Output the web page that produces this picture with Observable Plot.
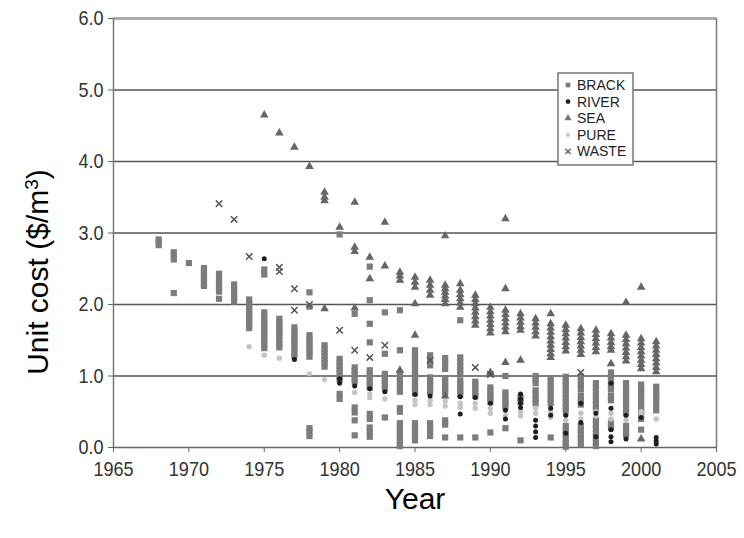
<!DOCTYPE html>
<html>
<head>
<meta charset="utf-8">
<script src="https://cdn.jsdelivr.net/npm/d3@7"></script>
<script src="https://cdn.jsdelivr.net/npm/@observablehq/plot@0.6"></script>
<style>
  html, body { margin: 0; padding: 0; background: #fff; }
  #chart { position: relative; width: 744px; height: 538px; }
</style>
</head>
<body>
<div id="chart"></div>
<script>
// ---- Data : [year, [unit costs $/m3]] ----
const xTicks = [1965, 1970, 1975, 1980, 1985, 1990, 1995, 2000, 2005];
const yTicks = [0, 1, 2, 3, 4, 5, 6];
const seriesNames = ["BRACK", "RIVER", "SEA", "PURE", "WASTE"];

const brack = [
  [1968, [2.91, 2.87, 2.83]],
  [1969, [2.73, 2.68, 2.63, 2.16]],
  [1970, [2.58]],
  [1971, [2.51, 2.46, 2.41, 2.36, 2.31, 2.26]],
  [1972, [2.43, 2.38, 2.33, 2.28, 2.23, 2.18, 2.08]],
  [1973, [2.28, 2.23, 2.18, 2.13, 2.08, 2.04]],
  [1974, [2.07, 2.02, 1.97, 1.92, 1.87, 1.82, 1.77, 1.72, 1.67]],
  [1975, [2.49, 2.42, 1.89, 1.84, 1.79, 1.74, 1.69, 1.64, 1.59, 1.54, 1.49, 1.44, 1.39]],
  [1976, [1.80, 1.75, 1.70, 1.65, 1.60, 1.55, 1.50, 1.45, 1.40]],
  [1977, [1.68, 1.63, 1.58, 1.53, 1.48, 1.43, 1.38, 1.33, 1.28]],
  [1978, [2.17, 1.97, 1.57, 1.52, 1.47, 1.42, 1.37, 1.32, 1.27, 0.27, 0.22, 0.16]],
  [1979, [1.43, 1.38, 1.33, 1.28, 1.23, 1.18, 1.13]],
  [1980, [2.98, 1.24, 1.19, 1.14, 1.09, 1.04, 0.99, 0.95, 0.75, 0.68]],
  [1981, [1.87, 1.12, 1.07, 1.02, 0.97, 0.92, 0.56, 0.49, 0.38, 0.17]],
  [1982, [2.53, 2.06, 1.73, 1.47, 1.08, 1.03, 0.98, 0.93, 0.88, 0.84, 0.47, 0.40, 0.28, 0.22, 0.15]],
  [1983, [1.89, 1.31, 1.03, 0.98, 0.93, 0.88, 0.83, 0.42]],
  [1984, [1.92, 1.36, 1.03, 0.98, 0.93, 0.88, 0.83, 0.78, 0.55, 0.50, 0.34, 0.30, 0.26, 0.22, 0.18, 0.14, 0.10, 0.06, 0.02]],
  [1985, [1.36, 1.31, 1.26, 1.21, 1.16, 1.11, 1.06, 1.01, 0.96, 0.91, 0.86, 0.81, 0.76, 0.34, 0.28, 0.22, 0.16, 0.10]],
  [1986, [1.29, 1.22, 1.15, 0.98, 0.93, 0.88, 0.83, 0.78, 0.34, 0.28, 0.22, 0.16]],
  [1987, [1.25, 1.18, 1.10, 0.97, 0.92, 0.87, 0.82, 0.77, 0.38, 0.32, 0.14]],
  [1988, [1.78, 1.26, 1.20, 1.14, 1.08, 1.03, 0.94, 0.89, 0.84, 0.79, 0.74, 0.14]],
  [1989, [0.92, 0.87, 0.82, 0.77, 0.72, 0.14]],
  [1990, [0.84, 0.79, 0.74, 0.69, 0.64, 0.21]],
  [1991, [1.00, 0.77, 0.72, 0.67, 0.62, 0.57, 0.27]],
  [1992, [0.70, 0.64, 0.10]],
  [1993, [1.00, 0.95, 0.90, 0.80, 0.74, 0.68, 0.62]],
  [1994, [0.97, 0.92, 0.86, 0.80, 0.74, 0.68, 0.62, 0.14]],
  [1995, [0.99, 0.93, 0.87, 0.81, 0.75, 0.69, 0.63, 0.57, 0.51, 0.30, 0.24, 0.18, 0.12, 0.06, 0.01]],
  [1996, [0.99, 0.93, 0.87, 0.81, 0.72, 0.66, 0.60, 0.30, 0.24, 0.18, 0.12, 0.05]],
  [1997, [0.90, 0.84, 0.78, 0.72, 0.66, 0.60, 0.54, 0.38, 0.32, 0.26, 0.20, 0.14, 0.08, 0.02]],
  [1998, [1.05, 0.99, 0.93, 0.87, 0.81, 0.72, 0.66, 0.35, 0.28]],
  [1999, [0.90, 0.84, 0.78, 0.72, 0.66, 0.60, 0.54, 0.48, 0.30, 0.24, 0.18]],
  [2000, [0.88, 0.82, 0.76, 0.70, 0.64, 0.58, 0.52, 0.46, 0.40, 0.25]],
  [2001, [0.85, 0.79, 0.73, 0.67, 0.60, 0.52]]
];

const river = [
  [1975, [2.64]], [1977, [1.23]], [1980, [0.96, 0.90]], [1981, [0.86]], [1982, [0.82]],
  [1983, [0.78]], [1985, [0.74]], [1986, [0.72]], [1988, [0.71, 0.47]], [1989, [0.70]],
  [1990, [0.62]], [1991, [0.52, 0.40]], [1992, [0.75, 0.68, 0.62, 0.56]],
  [1993, [0.38, 0.30, 0.22, 0.14]], [1994, [0.55, 0.45]], [1995, [0.45, 0.20]],
  [1996, [0.62, 0.35]], [1997, [0.48, 0.15]], [1998, [0.90, 0.55, 0.25, 0.15, 0.08]],
  [1999, [0.45, 0.12]], [2000, [0.42]], [2001, [0.14, 0.09, 0.05]]
];

const sea = [
  [1975, [4.65]], [1976, [4.40]], [1977, [4.20]], [1978, [3.93]],
  [1979, [3.57, 3.50, 3.45, 1.94]], [1980, [3.08]], [1981, [3.43, 2.80, 2.74, 1.95]],
  [1982, [2.66, 2.36]], [1983, [3.15, 2.54]], [1984, [2.45, 2.40, 2.34, 1.08]],
  [1985, [2.38, 2.31, 2.24, 2.01, 1.57]], [1986, [2.34, 2.27, 2.20, 2.13]],
  [1987, [2.96, 2.27, 2.22, 2.17, 2.12, 2.07, 2.01, 0.72]],
  [1988, [2.29, 2.20, 2.14, 2.08, 2.02, 1.96]],
  [1989, [2.13, 2.07, 2.01, 1.95, 1.89, 1.83, 1.77, 1.71]],
  [1990, [1.96, 1.90, 1.84, 1.78, 1.72, 1.66, 1.60, 1.05]],
  [1991, [3.20, 2.22, 1.92, 1.86, 1.80, 1.74, 1.68, 1.62, 1.19]],
  [1992, [1.87, 1.81, 1.75, 1.69, 1.64, 1.22]],
  [1993, [1.80, 1.74, 1.68, 1.62, 1.56]],
  [1994, [1.87, 1.73, 1.67, 1.61, 1.55, 1.49, 1.43, 1.37, 1.31, 1.26]],
  [1995, [1.71, 1.65, 1.59, 1.53, 1.47, 1.41, 1.35]],
  [1996, [1.66, 1.60, 1.54, 1.48, 1.42, 1.36, 1.30]],
  [1997, [1.64, 1.58, 1.52, 1.46, 1.40, 1.34]],
  [1998, [1.59, 1.53, 1.47, 1.41, 1.36, 1.17]],
  [1999, [2.03, 1.57, 1.51, 1.45, 1.39, 1.33, 1.27, 1.21]],
  [2000, [2.24, 1.52, 1.46, 1.40, 1.34, 1.28, 1.22, 1.16, 1.10, 0.12]],
  [2001, [1.48, 1.42, 1.36, 1.30, 1.24, 1.18, 1.12, 1.06]]
];

const pure = [
  [1974, [1.41]], [1975, [1.29]], [1976, [1.25]], [1978, [1.03]], [1979, [0.95]],
  [1981, [0.77]], [1982, [0.75, 0.70]], [1983, [0.68]], [1985, [0.66, 0.60]],
  [1986, [0.66, 0.60]], [1987, [0.65, 0.58]], [1988, [0.62, 0.56]], [1989, [0.62, 0.55]],
  [1990, [0.55, 0.48]], [1991, [0.45]], [1992, [0.50, 0.44]], [1993, [0.55, 0.48]],
  [1994, [0.50, 0.42]], [1995, [0.45, 0.38]], [1996, [0.48, 0.40]], [1997, [0.50, 0.44]],
  [1998, [0.48, 0.40]], [1999, [0.45, 0.38]], [2000, [0.50, 0.44]], [2001, [0.40]]
];

const waste = [
  [1972, [3.41]], [1973, [3.19]], [1974, [2.67]], [1976, [2.52, 2.46]], [1977, [2.22, 1.92]],
  [1978, [2.00]], [1980, [1.64]], [1981, [1.36]], [1982, [1.26]], [1983, [1.43]],
  [1986, [1.22]], [1989, [1.12]], [1990, [1.02]], [1996, [1.05]]
];

// ---- Build table ----
const rows = (arr, type) => arr.flatMap(([yr, vals]) => vals.map(v => ({year: yr, cost: v, type})));
const dBrack = rows(brack, "BRACK");
const dRiver = rows(river, "RIVER");
const dSea = rows(sea, "SEA");
const dPure = rows(pure, "PURE");
const dWaste = rows(waste, "WASTE");

const chart = Plot.plot({
  width: 744,
  height: 538,
  marginLeft: 113,
  marginRight: 28,
  marginTop: 18,
  marginBottom: 91,
  style: {fontFamily: "'Liberation Sans', Arial, sans-serif", fontSize: "21px", color: "#333", background: "#fff"},
  x: {domain: [1965, 2005]},
  y: {domain: [0, 6]},
  marks: [
    Plot.ruleY(yTicks.filter(d => d > 0 && d < 6), {stroke: "#555", strokeWidth: 1.5}),
    Plot.ruleY([6], {stroke: "#aaa", strokeWidth: 3}),
    Plot.ruleY([0], {stroke: "#666", strokeWidth: 1.5}),
    Plot.ruleX([1965], {stroke: "#777", strokeWidth: 1.5}),
    Plot.ruleX([2005], {stroke: "#777", strokeWidth: 1.5}),
    Plot.axisX({ticks: xTicks, tickFormat: d => String(d), tickSize: 5, tickPadding: 9, label: null, stroke: "#666", fill: "#333"}),
    Plot.axisY({ticks: yTicks, tickFormat: d3.format(".1f"), tickSize: 5, tickPadding: 5, label: null, stroke: "#666", fill: "#333"}),
    Plot.dot(dBrack, {x: "year", y: "cost", symbol: "square", r: 3.5, fill: "#7c7c7c", stroke: "none"}),
    Plot.dot(dPure, {x: "year", y: "cost", symbol: "circle", r: 2.7, fill: "#c4c4c4", stroke: "none"}),
    Plot.dot(dSea, {x: "year", y: "cost", symbol: "triangle", r: 3.2, fill: "#666", stroke: "none"}),
    Plot.dot(dWaste, {x: "year", y: "cost", symbol: "times", r: 3, stroke: "#555", strokeWidth: 1.5, fill: "none"}),
    Plot.dot(dRiver, {x: "year", y: "cost", symbol: "circle", r: 2.5, fill: "#1e1e1e", stroke: "none"})
  ]
});

document.getElementById("chart").appendChild(chart);

// ---- Condense the tick labels like the reference's narrow face ----
const svg = d3.select(chart);
svg.selectAll("text").each(function () {
  const w = this.getComputedTextLength();
  if (w > 0) {
    this.setAttribute("textLength", (w * 0.86).toFixed(1));
    this.setAttribute("lengthAdjust", "spacingAndGlyphs");
  }
});

// ---- Axis titles and legend ----
const yt = svg.append("text")
  .attr("transform", "translate(48,272) rotate(-90)")
  .attr("text-anchor", "middle")
  .attr("font-family", "'Liberation Sans', Arial, sans-serif")
  .attr("font-size", 30)
  .attr("fill", "#000");
yt.append("tspan").text("Unit cost ($/m");
yt.append("tspan").attr("baseline-shift", "super").attr("font-size", 19).text("3");
yt.append("tspan").text(")");

svg.append("text")
  .attr("x", 415).attr("y", 509)
  .attr("text-anchor", "middle")
  .attr("font-family", "'Liberation Sans', Arial, sans-serif")
  .attr("font-size", 30)
  .attr("fill", "#000")
  .text("Year");

const lg = svg.append("g").attr("transform", "translate(558,73)");
lg.append("rect").attr("width", 75).attr("height", 92).attr("fill", "#fff").attr("stroke", "#777").attr("stroke-width", 1.5);
const legendSym = {
  BRACK: {type: d3.symbolSquare, fill: "#7c7c7c", size: 22},
  RIVER: {type: d3.symbolCircle, fill: "#1e1e1e", size: 18},
  SEA: {type: d3.symbolTriangle, fill: "#777", size: 22},
  PURE: {type: d3.symbolCircle, fill: "#c8c8c8", size: 14},
  WASTE: {type: d3.symbolTimes, fill: "none", size: 20, stroke: "#666"}
};
seriesNames.forEach((name, i) => {
  const yy = 12 + i * 16.6;
  const s = legendSym[name];
  lg.append("path")
    .attr("transform", `translate(10,${yy})`)
    .attr("d", d3.symbol(s.type, s.size)())
    .attr("fill", s.fill)
    .attr("stroke", s.stroke || "none")
    .attr("stroke-width", 1.4);
  lg.append("text")
    .attr("x", 19).attr("y", yy + 5)
    .attr("text-anchor", "start")
    .attr("font-family", "'Liberation Sans', Arial, sans-serif")
    .attr("font-size", 14)
    .attr("fill", "#222")
    .text(name);
});
</script>
</body>
</html>
